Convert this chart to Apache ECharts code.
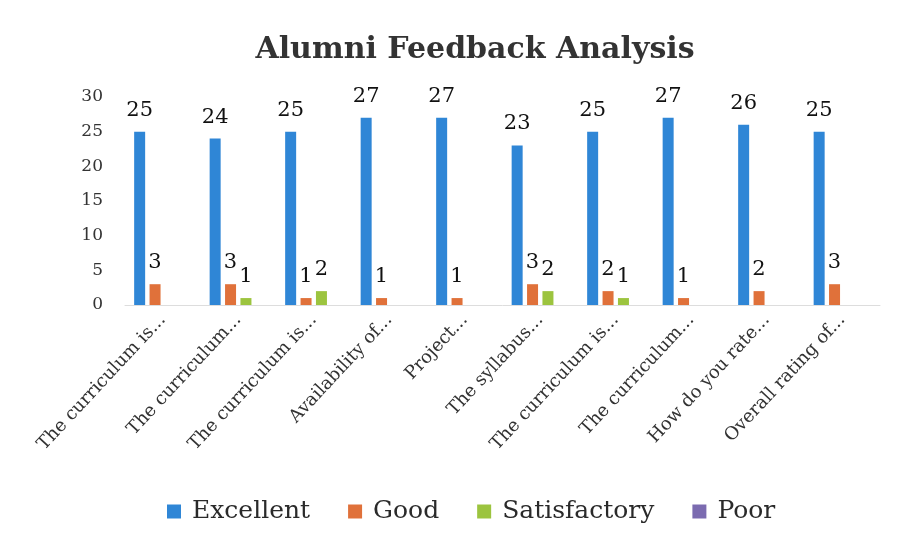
<!DOCTYPE html>
<html>
<head>
<meta charset="utf-8">
<script src="https://cdn.jsdelivr.net/npm/echarts@6/dist/echarts.min.js"></script>
<style>
  html, body { margin: 0; padding: 0; background: #fff; }
  #content { width: 910px; height: 549px; }
</style>
</head>
<body>
<div id="content"></div>
<script>
const categories = [
  'The curriculum is...', 'The curriculum...', 'The curriculum is...', 'Availability of...',
  'Project...', 'The syllabus...', 'The curriculum is...', 'The curriculum...',
  'How do you rate...', 'Overall rating of...'
];
const excellent = [25, 24, 25, 27, 27, 23, 25, 27, 26, 25];
const good = [3, 3, 1, 1, 1, 3, 2, 1, 2, 3];
const satisfactory = [0, 1, 2, 0, 0, 2, 1, 0, 0, 0];
const poor = [0, 0, 0, 0, 0, 0, 0, 0, 0, 0];

const serif = 'DejaVu Serif';
const label = {
  show: true,
  position: 'top',
  distance: 11,
  fontFamily: serif,
  fontSize: 21,
  color: '#111',
  formatter: p => (p.value ? p.value : '')
};
const mk = (name, data, color) => ({
  name, type: 'bar', data, barWidth: 11, barGap: '40%',
  itemStyle: { color }, label
});

const chart = echarts.init(document.getElementById('content'));
chart.setOption({
  animation: false,
  title: {
    text: 'Alumni Feedback Analysis',
    left: 470, top: 30, textAlign: 'center',
    textStyle: { fontFamily: serif, fontSize: 30, fontWeight: 'bold', color: '#333' }
  },
  legend: {
    bottom: 20, left: 162,
    itemWidth: 14, itemHeight: 14, itemGap: 38,
    icon: 'rect',
    textStyle: { fontFamily: serif, fontSize: 25, color: '#2a2a2a', padding: [0, 0, 0, 6] }
  },
  grid: { left: 125, right: 30, top: 97, bottom: 244 },
  xAxis: {
    type: 'category', data: categories,
    axisLine: { lineStyle: { color: '#ddd' } },
    axisTick: { show: false },
    axisLabel: { rotate: 47, interval: 0, margin: 12, fontFamily: serif, fontSize: 18, color: '#333' }
  },
  yAxis: {
    type: 'value', min: 0, max: 30, interval: 5,
    splitLine: { show: false },
    axisLabel: { fontFamily: serif, fontSize: 17, color: '#333', margin: 22 }
  },
  series: [
    mk('Excellent', excellent, '#2f86d6'),
    mk('Good', good, '#e0713a'),
    mk('Satisfactory', satisfactory, '#9cc43f'),
    mk('Poor', poor, '#7b6bb0')
  ]
});
</script>
</body>
</html>
